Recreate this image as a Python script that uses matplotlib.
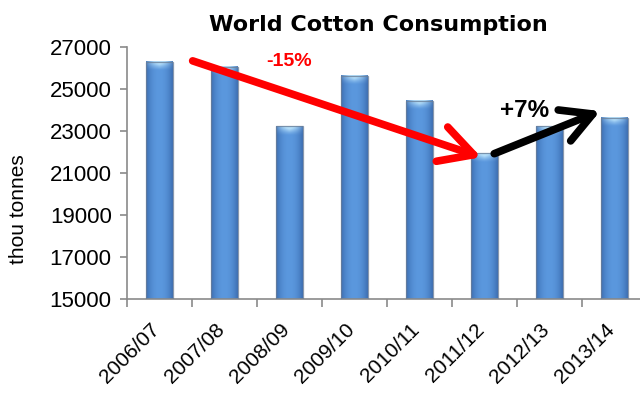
import numpy as np
import matplotlib
matplotlib.use("Agg")
import matplotlib.pyplot as plt
from matplotlib.colors import to_rgb
from matplotlib.transforms import ScaledTranslation

# World cotton consumption by season (thousand tonnes)
seasons = ["2006/07", "2007/08", "2008/09", "2009/10",
           "2010/11", "2011/12", "2012/13", "2013/14"]
consumption = [26300, 26050, 23230, 25620, 24450, 21950, 23220, 23620]
y_ticks = [15000, 17000, 19000, 21000, 23000, 25000, 27000]

decline_label = "-15%"
recovery_label = "+7%"

plt.rcParams['font.family'] = ['Liberation Sans', 'DejaVu Sans']

fig = plt.figure(figsize=(6.4, 3.98), dpi=100)
ax = fig.add_axes([127 / 640, 99 / 398, 520 / 640, 252 / 398])

x = np.arange(len(seasons))
bar_w = 0.415
y_min, y_max = y_ticks[0], y_ticks[-1]

edge_c = np.array(to_rgb("#3d6fb3"))
mid_c = np.array(to_rgb("#5b98de"))
cap_c = np.array(to_rgb("#b4def9"))


def cylinder_image(height_units, nx=40, ny=300):
    """Shaded texture for a cylinder-style bar, top row first."""
    t = np.linspace(-1, 1, nx)
    prof = 1 - np.abs(t) ** 2.2
    side = edge_c[None, :] + (mid_c - edge_c)[None, :] * prof[:, None]
    img = np.repeat(side[None, :, :], ny, axis=0)
    # light cap at the top of the bar
    cap_units = 420.0
    rows = np.linspace(0, height_units, ny)
    cap_depth = np.clip(1 - rows / cap_units, 0, 1)
    shape = np.clip(1 - np.abs(t) * 0.9, 0, 1)
    w = (cap_depth[:, None] ** 1.3) * shape[None, :]
    w = np.clip(w * 1.6, 0, 1)
    img = img * (1 - w[..., None]) + cap_c[None, None, :] * w[..., None]
    return img


for xi, v in zip(x, consumption):
    img = cylinder_image(v - y_min)
    ax.imshow(img, extent=[xi - bar_w / 2, xi + bar_w / 2, y_min, v],
              aspect='auto', interpolation='bilinear', zorder=2)
    ax.add_patch(plt.Rectangle((xi - bar_w / 2, y_min), bar_w, v - y_min,
                               fill=False, edgecolor='#6a7f99', lw=0.9,
                               alpha=0.8, zorder=3))

ax.set_xlim(-0.5, len(seasons) - 0.5)
ax.set_ylim(y_min, y_max)

ax.set_yticks(y_ticks)
ax.set_yticklabels([str(t) for t in y_ticks], fontsize=16)
ax.set_xticks(np.arange(len(seasons) + 1) - 0.5)
ax.set_xticklabels([])
ax.set_xticks(x, minor=True)
ax.set_xticklabels(seasons, minor=True, rotation=45, ha='right',
                   rotation_mode='anchor', fontsize=15)
ax.tick_params(axis='x', which='minor', length=0, pad=6)
ax.tick_params(axis='x', which='major', length=6, color='#8a8a8a', width=1.2)
ax.tick_params(axis='y', length=5, color='#8a8a8a', width=1.2, pad=6)

shift = ScaledTranslation(-7 / 72, -9 / 72, fig.dpi_scale_trans)
for lbl in ax.get_xticklabels(minor=True):
    lbl.set_transform(lbl.get_transform() + shift)

for s in ('top', 'right'):
    ax.spines[s].set_visible(False)
for s in ('left', 'bottom'):
    ax.spines[s].set_color('#8a8a8a')
    ax.spines[s].set_linewidth(1.2)

# trend arrows anchored on the bar values
low = consumption[5]
ax.annotate('', xy=(4.95, low - 200), xytext=(0.51, consumption[0] + 40),
            arrowprops=dict(arrowstyle='->,head_length=1.2,head_width=0.65',
                            mutation_scale=20, lw=5.5, color='#ff0000',
                            shrinkA=0, shrinkB=0),
            zorder=5)
ax.annotate('', xy=(6.78, consumption[-1] + 330), xytext=(5.15, low - 30),
            arrowprops=dict(arrowstyle='->,head_length=1.1,head_width=0.6',
                            mutation_scale=20, lw=5.5, color='#000000',
                            shrinkA=0, shrinkB=0),
            zorder=5)
ax.text(2.0, 26290, decline_label, color='#ff0000', fontsize=14,
        fontweight='bold', ha='center', va='center', zorder=6)
ax.text(5.62, 24000, recovery_label, color='#000000', fontsize=17.5,
        fontweight='bold', ha='center', va='center', zorder=6)

fig.text(378 / 640, 373 / 398, "World Cotton Consumption",
         fontsize=16, fontweight='heavy', family=['DejaVu Sans'],
         ha='center', va='center')
fig.text(19 / 640, 189 / 398, "thou tonnes", rotation=90, fontsize=15,
         ha='center', va='center')

fig.savefig("out.png", dpi=100)
